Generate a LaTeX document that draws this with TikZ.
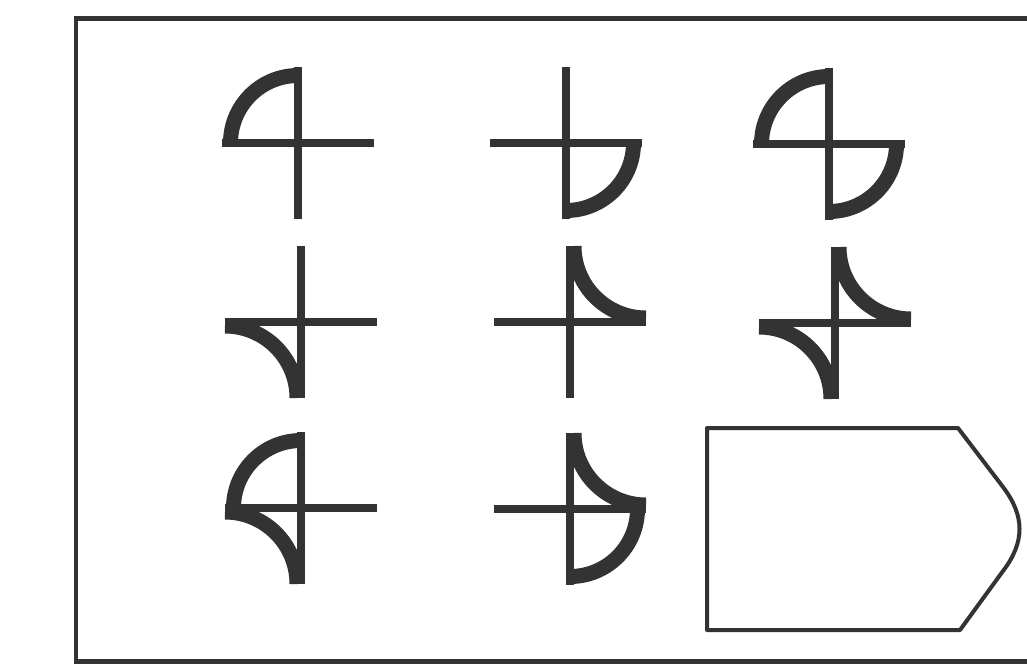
\documentclass[tikz,border=0pt]{standalone}
\definecolor{ink}{HTML}{333333}
\tikzset{
  x=1pt, y=-1pt,
  axisline/.style={draw=ink, line width=7.5pt},
  arcline/.style={draw=ink, line width=15pt},
  frameline/.style={draw=ink, line width=4.5pt},
  shapeline/.style={draw=ink, line width=4pt, line join=round},
  pics/crossarms/.style={code={
    \draw[axisline] (-76,0) -- (76,0);
    \draw[axisline] (0,-76) -- (0,76);
  }},
  pics/convex/.style={code={
    \draw[arcline] (#1:67.5) arc[start angle=#1, delta angle=90, radius=67.5];
  }},
  pics/concave/.style={code={
    \draw[arcline] ([shift={(#1:107.48)}]#1+135:72) arc[start angle=#1+135, delta angle=90, radius=72];
  }},
}
\begin{document}
\begin{tikzpicture}
\useasboundingbox (0,0) rectangle (1027,665);
\fill[white] (0,0) rectangle (1027,665);
\clip (0,0) rectangle (1027,665);
\draw[frameline] (76,18.5) rectangle (1050,661.5);

\coordinate (c1) at (298,143);
\coordinate (c2) at (566,143);
\coordinate (c3) at (829,144);
\coordinate (c4) at (301,322);
\coordinate (c5) at (570,322);
\coordinate (c6) at (835,323);
\coordinate (c7) at (301,508);
\coordinate (c8) at (570,509);

% row 1
\pic at (c1) {crossarms};
\pic at (c1) {convex=180};
\pic at (c2) {crossarms};
\pic at (c2) {convex=0};
\pic at (c3) {crossarms};
\pic at (c3) {convex=180};
\pic at (c3) {convex=0};
% row 2
\pic at (c4) {crossarms};
\pic at (c4) {concave=135};
\pic at (c5) {crossarms};
\pic at (c5) {concave=315};
\pic at (c6) {crossarms};
\pic at (c6) {concave=315};
\pic at (c6) {concave=135};
% row 3
\pic at (c7) {crossarms};
\pic at (c7) {convex=180};
\pic at (c7) {concave=135};
\pic at (c8) {crossarms};
\pic at (c8) {concave=315};
\pic at (c8) {convex=0};

% tag shape
\draw[shapeline] (707,428) -- (958,428) -- (1003,487)
  .. controls (1025,516) and (1025,542) .. (1003,571)
  -- (960,630) -- (707,630) -- cycle;
\end{tikzpicture}
\end{document}
